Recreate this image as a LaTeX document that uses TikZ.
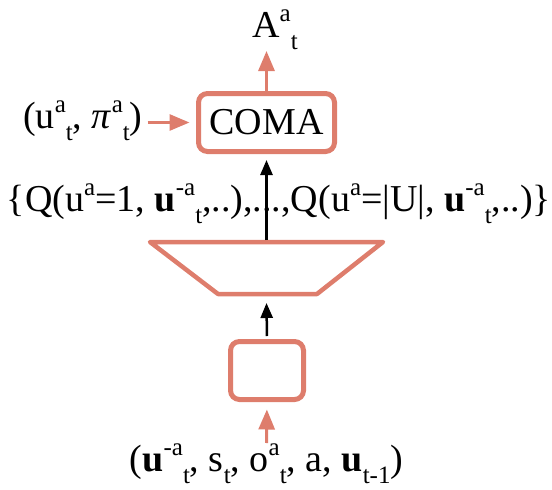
\documentclass[tikz,border=0pt]{standalone}
\usepackage{fontspec}
\setmainfont{Liberation Serif}
\usetikzlibrary{arrows.meta}
\definecolor{coral}{RGB}{222,125,108}
\newcommand\sps[1]{\raisebox{0.42em}{\fontsize{25}{25}\selectfont #1}}
\newcommand\sbs[1]{\raisebox{-0.32em}{\fontsize{25}{25}\selectfont #1}}
\begin{document}
\begin{tikzpicture}[x=1pt,y=-1pt, font=\fontsize{38}{40}\selectfont,
  blk/.style={rounded corners=9pt, draw=coral, line width=5pt, fill=white, inner sep=0pt},
  oarrow/.style={draw=coral, line width=3pt, -{Triangle[length=20pt,width=16pt]}},
  barrow/.style={draw=black, line width=2.5pt, -{Triangle[length=15pt,width=12pt]}},
  lbl/.style={inner sep=0pt, anchor=base},
  trap/.style={draw=coral, line width=4.5pt, line join=round}]
\useasboundingbox (0,0) rectangle (552,490);

% COMA box
\node[blk, minimum width=136pt, minimum height=58pt] (coma) at (266.5,122.5) {COMA};

% output
\node[lbl] (aout) at (275,37) {A\sps{a}\sbs{t}};
\coordinate (atip) at (266.5,51);
\draw[oarrow] (coma.north) -- (atip);

% left input
\node[lbl, anchor=base west] (ain) at (23,128) {(u\sps{a}\sbs{t}, \textit{π}\sps{a}\sbs{t})};
\draw[oarrow, shorten <=5pt, shorten >=6.5pt] (ain.east |- coma.west) -- (coma.west);

% Q values
\node[lbl] (qtext) at (279,211) {\{Q(u\sps{a}=1, \textbf{u}\sps{-a}\sbs{t},..),...,Q(u\sps{a}=|U|, \textbf{u}\sps{-a}\sbs{t},..)\}};

% trapezoid
\coordinate (tl) at (150,242);
\coordinate (tr) at (383,242);
\coordinate (br) at (317,294);
\coordinate (bl) at (218,294);
\draw[trap] (tl) -- (tr) -- (br) -- (bl) -- cycle;
\coordinate (trtop) at (266.5,240);
\coordinate (trbot) at (266.5,303);
\draw[barrow, shorten >=6pt] (trtop) -- (coma.south);

% encoder box
\node[blk, minimum width=73pt, minimum height=58pt] (enc) at (267,370.5) {};
\draw[barrow, shorten <=3pt] (enc.north) -- (trbot);

% bottom input
\node[lbl] (inp) at (266.5,471) {(\textbf{u}\sps{-a}\sbs{t}, s\sbs{t}, o\sps{a}\sbs{t}, a, \textbf{u}\sbs{t-1})};
\coordinate (inptop) at (266.5,443);
\draw[oarrow, shorten >=7.5pt] (inptop) -- (enc.south);
\end{tikzpicture}
\end{document}
